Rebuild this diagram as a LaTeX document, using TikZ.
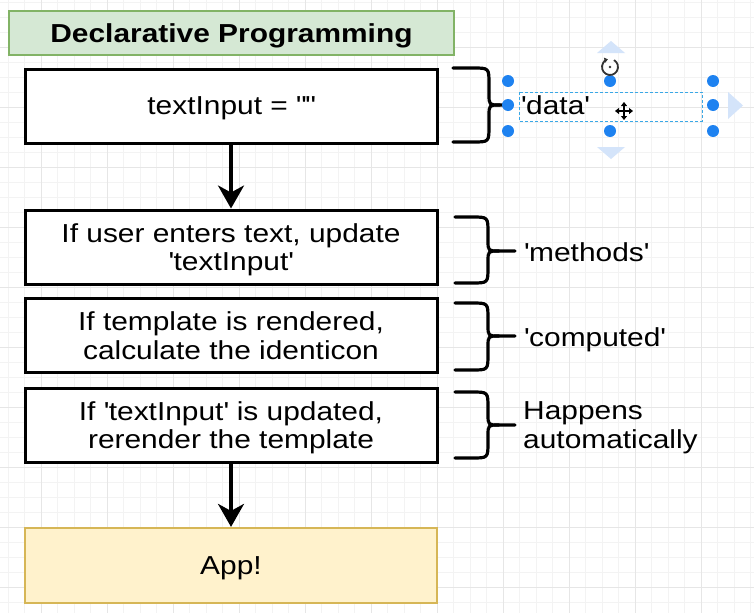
\documentclass[tikz,border=0pt]{standalone}
\usepackage{fontspec}
\setmainfont{Liberation Sans}[FakeStretch=1.15]
\usetikzlibrary{arrows.meta}
\definecolor{gridminor}{HTML}{F3F3F3}
\definecolor{gridmajor}{HTML}{E6E6E6}
\definecolor{titlefill}{HTML}{D5E8D4}
\definecolor{titleline}{HTML}{82B366}
\definecolor{appfill}{HTML}{FFF2CC}
\definecolor{appline}{HTML}{D6B656}
\definecolor{selblue}{HTML}{1E82F0}
\definecolor{seldash}{HTML}{3AA8E6}
\definecolor{seltri}{HTML}{D4E4FA}
\definecolor{icongray}{HTML}{333333}
\newcommand\sq{\textquotesingle}
\newcommand\dq{\textquotedbl}
\tikzset{
  txt/.style={font=\fontsize{26}{28.5}\selectfont, text=black, inner sep=0pt, text depth=0pt},
  stepbox/.style={draw=black, line width=3pt, fill=white, minimum width=412pt, minimum height=74pt, align=center, txt},
  titlebox/.style={draw=titleline, line width=1.6pt, fill=titlefill, minimum width=445pt, minimum height=44pt, txt, font=\fontsize{26}{29}\selectfont\bfseries},
  appbox/.style={draw=appline, line width=2.2pt, fill=appfill, minimum width=412pt, minimum height=75pt, txt},
  flow/.style={line width=3.4pt, -{Stealth[length=23pt,width=26pt,inset=7pt]}},
  bracestyle/.style={line width=3.2pt, line cap=round, line join=round},
  label/.style={txt, anchor=west, align=left},
  dot/.style={fill=selblue, draw=none},
}
\newcommand\mybrace[6]{%
  \draw[bracestyle] (#1,#4) -- ({#2-16},#4) .. controls (#2,#4) .. (#2,{#4+16}) -- (#2,{#5-11}) .. controls (#2,#5) .. ({#2+11},#5) -- (#3,#5);
  \draw[bracestyle] (#1,#6) -- ({#2-16},#6) .. controls (#2,#6) .. (#2,{#6-16}) -- (#2,{#5+11}) .. controls (#2,#5) .. ({#2+11},#5);
}
\begin{document}
\begin{tikzpicture}[x=1pt,y=-1pt]
\useasboundingbox (0,0) rectangle (754,613);
\fill[white] (0,0) rectangle (754,613);
\begin{scope}
\clip (0,0) rectangle (754,613);
\foreach \i in {0,...,46} { \draw[gridminor, line width=0.8pt] ({8+16.5*\i},0) -- ({8+16.5*\i},613); }
\foreach \j in {0,...,41} { \draw[gridminor, line width=0.8pt] (0,{2.3+15*\j}) -- (754,{2.3+15*\j}); }
\foreach \i in {0,...,11} { \draw[gridmajor, line width=1pt] ({41+66*\i},0) -- ({41+66*\i},613); }
\foreach \j in {0,...,9} { \draw[gridmajor, line width=1pt] (0,{47.3+60*\j}) -- (754,{47.3+60*\j}); }
\end{scope}

% title
\node[titlebox] (title) at (231.5,33) {Declarative Programming};

% steps
\node[stepbox] (b1) at (231,106) {textInput = \dq\dq};
\node[stepbox] (b2) at (231,247) {If user enters text, update\\\sq textInput\sq};
\node[stepbox] (b3) at (231,335.5) {If template is rendered,\\calculate the identicon};
\node[stepbox] (b4) at (231,425) {If \sq textInput\sq\ is updated,\\rerender the template};
\node[appbox] (app) at (231,565.5) {App!};

\draw[flow] (b1.south) -- (b2.north);
\draw[flow] (b4.south) -- (app.north);

% braces
\mybrace{453}{489}{505}{68}{105}{142}
\mybrace{455}{488}{515}{217}{251}{283}
\mybrace{455}{488}{515}{303}{336}{370}
\mybrace{455}{488}{515}{392}{425}{458}

% labels
\node[label] (ldata) at (521,105) {\sq data\sq};
\node[label] (lmethods) at (524,252) {\sq methods\sq};
\node[label] (lcomputed) at (524,337) {\sq computed\sq};
\node[label] (lauto) at (523,425) {Happens\\automatically};

% selection decoration around 'data'
\draw[seldash, line width=1pt, dash pattern=on 3pt off 2pt] (519,92) rectangle (702,121);
\fill[seltri] (597,53) -- (625,53) -- (611,41) -- cycle;
\fill[seltri] (597,147) -- (625,147) -- (611,159) -- cycle;
\fill[seltri] (728,92) -- (728,119) -- (743,105.5) -- cycle;
\foreach \px/\py in {508/81,610/81,713/81,508/105,713/105,508/131,610/131,713/131}
  { \fill[dot] (\px,\py) circle[radius=6pt]; }
% rotate icon
\draw[icongray, line width=1.8pt, -{Triangle[length=3.5pt,width=5pt]}] (614,60.07) arc[start angle=60, end angle=-255, radius=8pt];
\fill[icongray] (610,67) circle[radius=1.3pt];
% move cursor
\draw[white, line width=3.5pt] (614,111) -- (634,111) (624,101) -- (624,121);
\draw[black, line width=1.6pt, {Triangle[length=4pt,width=6pt]}-{Triangle[length=4pt,width=6pt]}] (615,111) -- (633,111);
\draw[black, line width=1.6pt, {Triangle[length=4pt,width=6pt]}-{Triangle[length=4pt,width=6pt]}] (624,102) -- (624,120);
\end{tikzpicture}
\end{document}
